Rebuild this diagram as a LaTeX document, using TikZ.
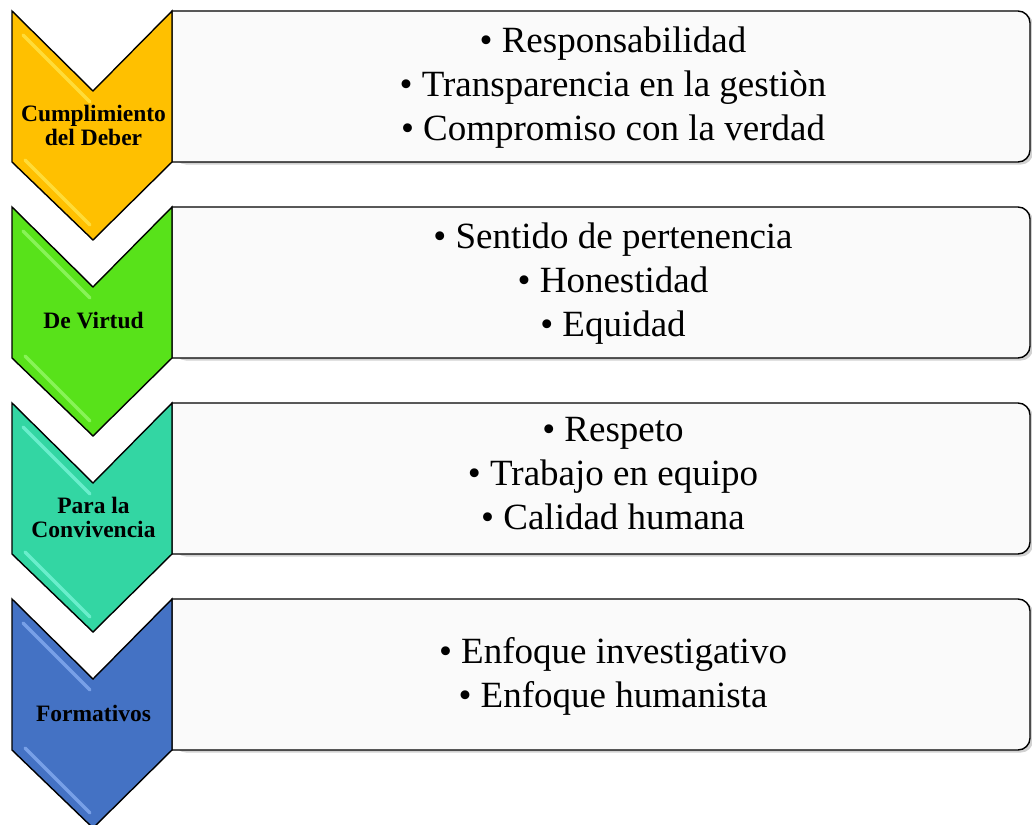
\documentclass[tikz,border=0pt]{standalone}
\usepackage{fontspec}
\setmainfont{Liberation Serif}
\definecolor{cgold}{HTML}{FFC000}
\definecolor{cgreen}{HTML}{58E21A}
\definecolor{cteal}{HTML}{33D6A3}
\definecolor{cblue}{HTML}{4472C4}
\definecolor{hgold}{HTML}{FFF060}
\definecolor{hgreen}{HTML}{A8FF80}
\definecolor{hteal}{HTML}{90FFE8}
\definecolor{hblue}{HTML}{9CC0FF}
\definecolor{boxfill}{HTML}{FAFAFA}
\begin{document}
\begin{tikzpicture}[x=1pt,y=-1pt,
  chev/.style={draw=black,line width=1.4pt,line join=miter},
  hilite/.style={line width=3.2pt,line cap=round,opacity=0.6},
  listbox/.style={draw=black,line width=1.4pt,fill=boxfill},
  boxshadow/.style={fill=black,opacity=0.18},
  label/.style={font=\fontsize{23.5}{24}\selectfont\bfseries,align=center,inner sep=0pt},
  item/.style={font=\fontsize{37}{44}\selectfont,align=center,inner sep=0pt}]
\useasboundingbox (0,0) rectangle (1032,824);

% boxes (row tops 11, 207, 403, 599)
\foreach \t in {11,207,403,599}{
  \fill[boxshadow,rounded corners=12] (174,\t+2) -- (1033,\t+2) -- (1033,\t+153.5) -- (174,\t+153.5) -- cycle;
  \draw[listbox] (172,\t) [rounded corners=12] -- (1030,\t) -- (1030,\t+151) [sharp corners] -- (172,\t+151) -- cycle;
}

% chevrons
\foreach \t/\c/\h in {11/cgold/hgold,207/cgreen/hgreen,403/cteal/hteal,599/cblue/hblue}{
  \draw[chev,fill=\c] (12,\t) -- (93,\t+80) -- (172,\t) -- (172,\t+151) -- (93,\t+229) -- (12,\t+151) -- cycle;
  \draw[hilite,\h] (23,\t+24) -- (90,\t+91);
  \draw[hilite,\h] (25,\t+149) -- (90,\t+214);
}

% chevron labels
\node[label] (l1) at (93.5,125) {Cumplimiento\\del Deber};
\node[label] (l2) at (93.5,321) {De Virtud};
\node[label] (l3) at (93.5,517) {Para la\\Convivencia};
\node[label] (l4) at (93.5,713) {Formativos};

% list texts
\node[item] (t1) at (613,88) {• Responsabilidad\\• Transparencia en la gestiòn\\• Compromiso con la verdad};
\node[item] (t2) at (613,284) {• Sentido de pertenencia\\• Honestidad\\• Equidad};
\node[item] (t3) at (613,474) {• Respeto\\• Trabajo en equipo\\• Calidad humana};
\node[item] (t4) at (613,676) {• Enfoque investigativo\\• Enfoque humanista};
\end{tikzpicture}
\end{document}
